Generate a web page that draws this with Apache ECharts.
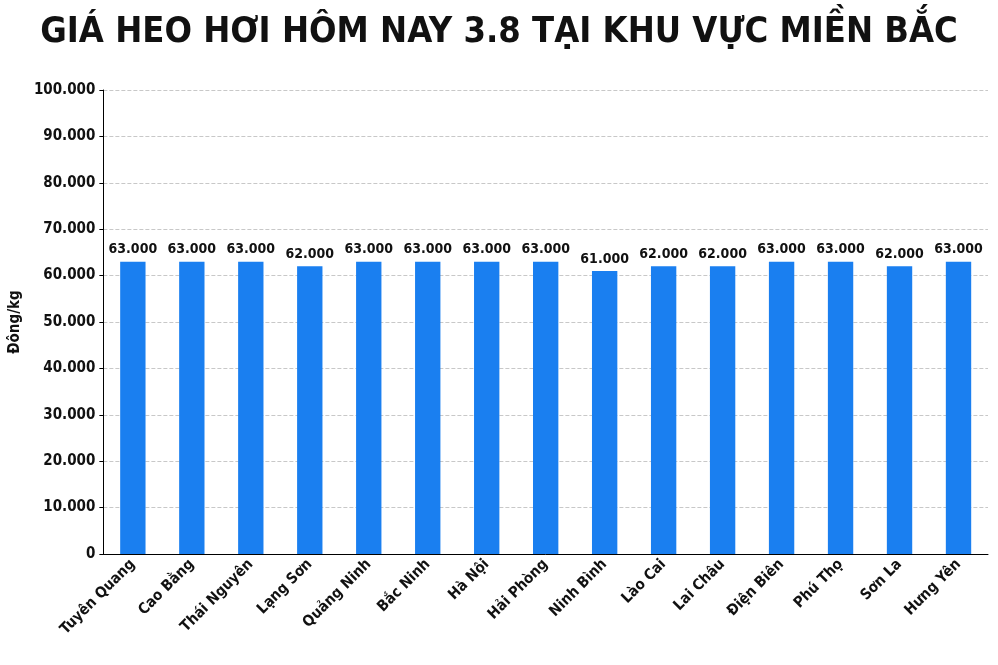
<!DOCTYPE html>
<html><head><meta charset="utf-8">
<script src="https://cdn.jsdelivr.net/npm/echarts@6/dist/echarts.min.js"></script>
<style>html,body{margin:0;padding:0;background:#fff}#c{width:998px;height:665px}</style>
</head><body><div id="c"></div>
<script>
const categories = ["Tuyên Quang","Cao Bằng","Thái Nguyên","Lạng Sơn","Quảng Ninh","Bắc Ninh","Hà Nội","Hải Phòng","Ninh Bình","Lào Cai","Lai Châu","Điện Biên","Phú Thọ","Sơn La","Hưng Yên"];
const prices = [63000,63000,63000,62000,63000,63000,63000,63000,61000,62000,62000,63000,63000,62000,63000];
const fmt = v => String(v).replace(/\B(?=(\d{3})+(?!\d))/g, ".");
const F = "'DejaVu Sans Condensed','Liberation Sans Narrow',sans-serif";
const chart = echarts.init(document.getElementById('c'));
chart.setOption({
  title:{text:"GIÁ HEO HƠI HÔM NAY 3.8 TẠI KHU VỰC MIỀN BẮC",left:'center',top:10,
    textStyle:{fontFamily:F,fontSize:36,fontWeight:'bold',color:'#111'}},
  grid:{left:97,right:10,top:90,bottom:111,containLabel:false},
  xAxis:{type:'category',data:categories,
    axisLine:{lineStyle:{color:'#000'}},axisTick:{show:false},
    axisLabel:{rotate:45,color:'#111',fontFamily:F,fontWeight:'bold',fontSize:15,interval:0}},
  yAxis:{type:'value',min:0,max:100000,interval:10000,name:'Đông/kg',nameLocation:'middle',nameGap:68,
    nameTextStyle:{fontFamily:F,fontWeight:'bold',fontSize:15,color:'#111'},
    axisLine:{show:true,lineStyle:{color:'#000'}},axisTick:{show:true,length:4,lineStyle:{color:'#000'}},
    axisLabel:{formatter:fmt,color:'#111',fontFamily:F,fontWeight:'bold',fontSize:15},
    splitLine:{lineStyle:{type:'dashed',color:'#c8c8c8'}}},
  series:[{type:'bar',data:prices,barWidth:'43%',itemStyle:{color:'#1a7ff0'},
    label:{show:true,position:'top',formatter:p=>fmt(p.value),color:'#111',fontFamily:F,fontWeight:'bold',fontSize:14}}]
});
</script></body></html>
